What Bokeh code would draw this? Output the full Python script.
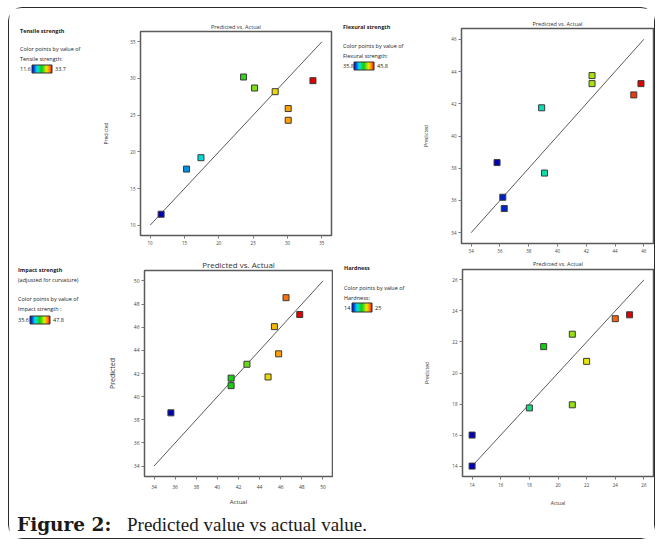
import numpy as np
from bokeh.plotting import figure
from bokeh.models import (ColumnDataSource, LinearColorMapper, ColorBar, Label,
                          FixedTicker, Range1d)
from bokeh.layouts import column, row
from bokeh.embed import file_html
from bokeh.resources import INLINE

# ---------------- data ----------------
tensile_actual = [11.6, 15.3, 17.4, 23.6, 25.2, 28.2, 30.1, 30.1, 33.7]
tensile_pred = [11.5, 17.65, 19.2, 30.2, 28.7, 28.2, 25.9, 24.3, 29.7]
tensile_ticks = [10, 15, 20, 25, 30, 35]
tensile_low, tensile_high = 11.6, 33.7

flex_actual = [35.8, 36.2, 36.3, 38.9, 39.1, 42.4, 42.4, 45.3, 45.8]
flex_pred = [38.35, 36.2, 35.5, 41.75, 37.7, 43.75, 43.25, 42.55, 43.25]
flex_ticks = [34, 36, 38, 40, 42, 44, 46]
flex_low, flex_high = 35.8, 45.8

impact_actual = [35.6, 41.3, 41.3, 42.8, 44.8, 45.4, 45.8, 46.5, 47.8]
impact_pred = [38.6, 41.6, 40.95, 42.8, 41.7, 46.05, 43.7, 48.55, 47.1]
impact_ticks = [34, 36, 38, 40, 42, 44, 46, 48, 50]
impact_low, impact_high = 35.6, 47.8

hard_actual = [14, 14, 18, 19, 21, 21, 22, 24, 25]
hard_pred = [14.0, 16.0, 17.75, 21.7, 22.5, 17.95, 20.75, 23.5, 23.75]
hard_ticks = [14, 16, 18, 20, 22, 24, 26]
hard_low, hard_high = 14, 25

# ---------------- palette (blue -> cyan -> green -> yellow -> red) ----------------
stops = [(0.0, "#0000b4"), (0.12, "#0060e8"), (0.24, "#00d8e8"), (0.34, "#10e0a0"),
         (0.45, "#10d010"), (0.54, "#30d020"), (0.63, "#90e010"), (0.73, "#e8e800"),
         (0.84, "#ffa000"), (0.93, "#f85010"), (1.0, "#e00000")]


def _rgb(h):
    return [int(h[i:i + 2], 16) for i in (1, 3, 5)]


pos = np.array([s[0] for s in stops])
cols = np.array([_rgb(s[1]) for s in stops], dtype=float)
palette = []
for t in np.linspace(0, 1, 256):
    c = [int(round(np.interp(t, pos, cols[:, k]))) for k in range(3)]
    palette.append("#%02x%02x%02x" % tuple(c))

FONT = "Open Sans"
TXT = "#222222"


def no_align(p):
    try:
        p.frame_align = False
    except Exception:
        pass


def scatter_panel(w, h, borders, xr, yr, ticks, actual, pred, mapper,
                  title_size, title_standoff, tick_size, ylab_size, ylab_standoff,
                  xlab=None, xlab_size="5px", xlab_standoff=10, xlabel_standoff=2):
    bl, br, bt, bb = borders
    p = figure(width=w, height=h, toolbar_location=None, output_backend="svg",
               x_range=Range1d(*xr), y_range=Range1d(*yr),
               min_border_left=bl, min_border_right=br,
               min_border_top=bt, min_border_bottom=bb)
    no_align(p)
    p.background_fill_color = "white"
    p.border_fill_color = "white"
    p.outline_line_color = "#5a5a5a"
    p.outline_line_width = 1.5
    p.xgrid.visible = False
    p.ygrid.visible = False

    p.title.text = "Predicted vs. Actual"
    p.title.align = "center"
    p.title.text_font = FONT
    p.title.text_font_style = "normal"
    p.title.text_font_size = title_size
    p.title.text_color = "#333333"
    p.title.standoff = title_standoff

    for ax in (p.xaxis[0], p.yaxis[0]):
        ax.ticker = FixedTicker(ticks=ticks)
        ax.axis_line_color = None
        ax.major_tick_in = 0
        ax.major_tick_out = 3
        ax.major_tick_line_color = "#777777"
        ax.minor_tick_line_color = None
        ax.major_label_text_font = FONT
        ax.major_label_text_font_size = tick_size
        ax.major_label_text_color = "#444444"
        ax.major_label_standoff = 2
        ax.axis_label_text_font = FONT
        ax.axis_label_text_font_style = "normal"
        ax.axis_label_text_color = "#333333"
    p.xaxis.major_label_standoff = xlabel_standoff
    p.yaxis.axis_label = "Predicted"
    p.yaxis.axis_label_text_font_size = ylab_size
    p.yaxis.axis_label_standoff = ylab_standoff
    if xlab:
        p.xaxis.axis_label = xlab
        p.xaxis.axis_label_text_font_size = xlab_size
        p.xaxis.axis_label_standoff = xlab_standoff

    src = ColumnDataSource(dict(actual=actual, pred=pred))
    p.line(x=[ticks[0], ticks[-1]], y=[ticks[0], ticks[-1]], line_color="#5a5a5a",
           line_width=1)
    p.scatter(x="actual", y="pred", source=src, marker="square", size=6,
              fill_color={"field": "actual", "transform": mapper},
              line_color="#3a3a3a", line_width=1)
    return p


def legend_panel(w, h, origin, lines, bar, mapper):
    """Text block at the left of a panel; positions given in page pixels."""
    fx, fy = origin  # page coords of figure top-left
    fb = fy + h
    p = figure(width=w, height=h, toolbar_location=None, output_backend="svg",
               x_axis_type=None, y_axis_type=None, min_border=0,
               x_range=Range1d(0, 1), y_range=Range1d(0, 1))
    no_align(p)
    p.outline_line_color = None
    p.grid.visible = False
    p.background_fill_color = "white"
    p.border_fill_color = "white"
    for (tx, ty, text, bold) in lines:
        p.add_layout(Label(x=tx - fx, y=fb - ty, x_units="screen", y_units="screen",
                           text=text, text_font=FONT, text_font_size="5.5px",
                           text_font_style="bold" if bold else "normal",
                           text_baseline="middle", text_align="left",
                           text_color=TXT))
    lx, bx0, by0, bx1, by1, lo_txt, hi_txt = bar
    cb = ColorBar(color_mapper=mapper, orientation="horizontal",
                  location=(bx0 - fx, fb - by1), width=bx1 - bx0, height=by1 - by0,
                  padding=0, margin=0, ticker=FixedTicker(ticks=[]),
                  major_label_text_font_size="1px", major_tick_line_color=None,
                  bar_line_color="#333333", bar_line_width=1,
                  background_fill_alpha=0, border_line_color=None)
    p.add_layout(cb, "center")
    ymid = (by0 + by1) / 2
    p.add_layout(Label(x=lx - fx, y=fb - ymid, x_units="screen", y_units="screen",
                       text=lo_txt, text_font=FONT, text_font_size="5.5px",
                       text_baseline="middle", text_color=TXT))
    p.add_layout(Label(x=bx1 + 3 - fx, y=fb - ymid, x_units="screen", y_units="screen",
                       text=hi_txt, text_font=FONT, text_font_size="5.5px",
                       text_baseline="middle", text_color=TXT))
    return p


m_t = LinearColorMapper(palette=palette, low=tensile_low, high=tensile_high)
m_f = LinearColorMapper(palette=palette, low=flex_low, high=flex_high)
m_i = LinearColorMapper(palette=palette, low=impact_low, high=impact_high)
m_h = LinearColorMapper(palette=palette, low=hard_low, high=hard_high)

X0, Y0 = 9.5, 8.5          # page position of the content box
R1, R2, CAPH = 248, 252, 30
LW_L, LW_R = 91, 87        # widths of legend blocks
PW_L, PW_R = 233, 234      # widths of scatter figures

tl_leg = legend_panel(LW_L, R1, (X0, Y0),
                      [(20, 31, "Tensile strength", True),
                       (20, 49, "Color points by value of", False),
                       (20, 59, "Tensile strength:", False)],
                      (20, 32, 65, 52, 73, "11.6", "33.7"), m_t)
tl = scatter_panel(PW_L, R1, (38, 2, 23, 21), (8.6, 36.4), (8.6, 36.4), tensile_ticks,
                   tensile_actual, tensile_pred, m_t,
                   "5.5px", 2, "4.5px", "5px", 18)

xr0 = X0 + LW_L + PW_L
tr_leg = legend_panel(LW_R, R1, (xr0, Y0),
                      [(343, 27, "Flexural strength", True),
                       (343, 46, "Color points by value of", False),
                       (343, 56, "Flexural strength:", False)],
                      (343, 354, 62, 374, 70, "35.8", "45.8"), m_f)
tr = scatter_panel(PW_R, R1, (41, 1, 20, 13), (33.33, 46.67), (33.33, 46.67), flex_ticks,
                   flex_actual, flex_pred, m_f,
                   "5.5px", 2, "4.5px", "5px", 19)

yr0 = Y0 + R1
bl_leg = legend_panel(LW_L, R2, (X0, yr0),
                      [(18, 270, "Impact strength", True),
                       (18, 280, "(adjusted for curvature)", False),
                       (18, 299, "Color points by value of", False),
                       (18, 309, "Impact strength :", False)],
                      (18, 30, 316, 50, 324, "35.6", "47.8"), m_i)
bl = scatter_panel(PW_L, R2, (44, 1, 13, 29), (33.1, 50.9), (33.1, 50.9), impact_ticks,
                   impact_actual, impact_pred, m_i,
                   "8px", 1, "5px", "7px", 14, xlab="Actual", xlab_size="6px",
                   xlab_standoff=6, xlabel_standoff=5)

br_leg = legend_panel(LW_R, R2, (xr0, yr0),
                      [(344, 268, "Hardness", True),
                       (344, 288, "Color points by value of", False),
                       (344, 298, "Hardness:", False)],
                      (344, 352, 303, 372, 312, "14", "25"), m_h)
br = scatter_panel(PW_R, R2, (42, 1, 12, 31), (13.33, 26.67), (13.33, 26.67), hard_ticks,
                   hard_actual, hard_pred, m_h,
                   "5.5px", 3, "4.5px", "5px", 19, xlab="Actual", xlab_size="5px",
                   xlab_standoff=10, xlabel_standoff=3)

cap = figure(width=LW_L + PW_L + LW_R + PW_R, height=CAPH, toolbar_location=None,
             output_backend="svg", x_axis_type=None, y_axis_type=None, min_border=0,
             x_range=Range1d(0, 1), y_range=Range1d(0, 1))
no_align(cap)
cap.outline_line_color = None
cap.grid.visible = False
cap_bottom = Y0 + R1 + R2 + CAPH
cap.add_layout(Label(x=17 - X0, y=cap_bottom - 524.5, x_units="screen", y_units="screen",
                     text="Figure 2:", text_font="DejaVu Serif",
                     text_font_style="bold", text_font_size="18.5px",
                     text_baseline="middle", text_color="#1a1a1a"))
cap.add_layout(Label(x=127 - X0, y=cap_bottom - 524.5, x_units="screen", y_units="screen",
                     text="Predicted value vs actual value.",
                     text_font="Liberation Serif", text_font_size="19px",
                     text_baseline="middle", text_color="#1a1a1a"))

layout = column(row(tl_leg, tl, tr_leg, tr), row(bl_leg, bl, br_leg, br), cap,
                margin=(7, 0, 0, 8),
                styles={"border": "1.5px solid #2a2a2a", "border-radius": "14px",
                        "background-color": "white"})

open("out.html", "w").write(file_html(layout, INLINE))
